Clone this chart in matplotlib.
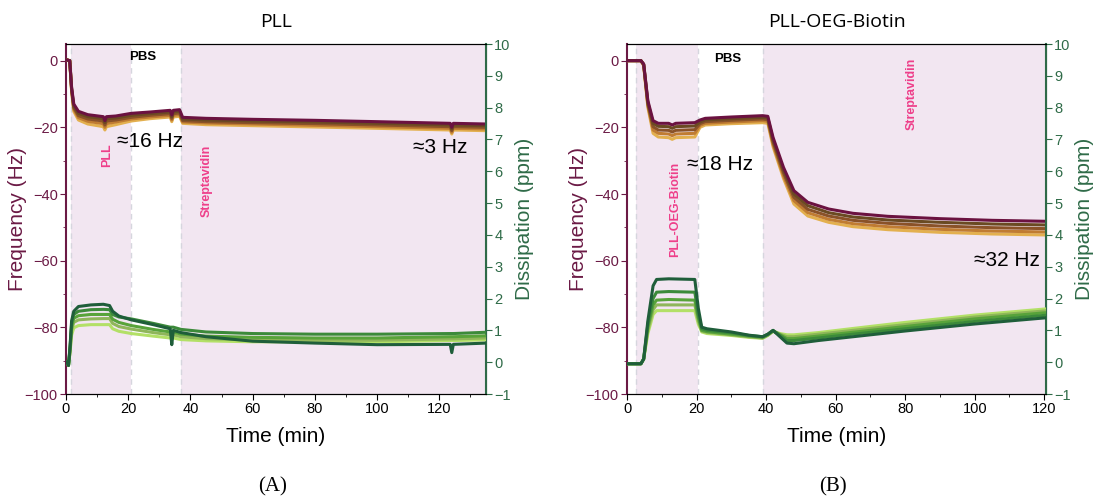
import numpy as np
import matplotlib
matplotlib.use("Agg")
import matplotlib.pyplot as plt
from matplotlib.ticker import MultipleLocator

plt.rcParams['font.family'] = ['Liberation Sans', 'DejaVu Sans']

# ---------------- data ----------------
# PLL panel, frequency shifts (Hz), five overtones, top (dark) to bottom (gold)
pll_t_freq = [0, 1.2, 1.8, 2.5, 4, 7, 12, 12.5, 13, 16, 21, 27, 33.5, 34, 34.5,
              36.5, 37.5, 45, 60, 80, 100, 123.5, 124, 124.5, 135]
pll_freq_a = [0.3, 0, -8, -13, -15.2, -16.2, -16.8, -18.0, -16.8, -16.6, -15.8, -15.4, -14.9, -16.3,
              -14.9, -14.7, -17.0, -17.3, -17.6, -17.9, -18.3, -18.8, -20.0, -18.8, -19.0]
pll_freq_b = [0.3, 0, -8.3, -13.6, -15.8, -16.8, -17.4, -18.6, -17.4, -17.2, -16.4, -15.9, -15.4, -16.8,
              -15.4, -15.2, -17.5, -17.8, -18.1, -18.4, -18.8, -19.3, -20.5, -19.3, -19.5]
pll_freq_c = [0.3, 0, -8.6, -14.1, -16.5, -17.5, -18.1, -19.3, -18.1, -17.8, -17.0, -16.4, -15.9, -17.3,
              -15.9, -15.7, -18.0, -18.3, -18.6, -18.9, -19.3, -19.8, -21.0, -19.8, -20.0]
pll_freq_d = [0.3, 0, -8.9, -14.6, -17.1, -18.2, -18.9, -20.0, -18.9, -18.4, -17.5, -16.9, -16.4, -17.8,
              -16.4, -16.2, -18.4, -18.7, -19.0, -19.4, -19.8, -20.3, -21.5, -20.3, -20.5]
pll_freq_e = [0.3, 0, -9.2, -15.2, -17.8, -19.0, -19.8, -20.8, -19.8, -19.2, -18.1, -17.4, -16.9, -18.3,
              -16.9, -16.7, -18.8, -19.2, -19.5, -19.9, -20.3, -20.8, -22.0, -20.8, -21.0]

# PLL panel, dissipation shifts (ppm)
pll_t_diss = [0, 0.8, 1.3, 1.8, 2.5, 4, 8, 12, 14, 15, 17, 21, 28, 33.5, 34, 34.5,
              37, 45, 60, 80, 100, 123.5, 124, 124.5, 135]
pll_diss_a = [0.05, -0.1, 0.5, 1.3, 1.6, 1.75, 1.8, 1.82, 1.78, 1.6, 1.45, 1.33, 1.18, 1.05, 0.55, 1.0,
              0.93, 0.8, 0.66, 0.6, 0.55, 0.56, 0.3, 0.56, 0.6]
pll_diss_b = [0.05, -0.1, 0.45, 1.2, 1.5, 1.6, 1.65, 1.66, 1.65, 1.5, 1.42, 1.36, 1.22, 1.1, 1.1, 1.1,
              1.03, 0.95, 0.9, 0.88, 0.88, 0.9, 0.9, 0.9, 0.94]
pll_diss_c = [0.05, -0.1, 0.4, 1.1, 1.38, 1.46, 1.5, 1.5, 1.5, 1.35, 1.25, 1.15, 1.03, 0.95, 0.95, 0.95,
              0.88, 0.82, 0.78, 0.76, 0.76, 0.8, 0.8, 0.8, 0.83]
pll_diss_d = [0.05, -0.1, 0.35, 1.0, 1.25, 1.33, 1.36, 1.37, 1.37, 1.22, 1.12, 1.04, 0.93, 0.86, 0.86, 0.86,
              0.8, 0.74, 0.7, 0.69, 0.69, 0.73, 0.73, 0.73, 0.76]
pll_diss_e = [0.05, -0.1, 0.3, 0.85, 1.08, 1.15, 1.18, 1.18, 1.18, 1.05, 0.97, 0.9, 0.82, 0.76, 0.76, 0.76,
              0.71, 0.67, 0.64, 0.64, 0.64, 0.68, 0.68, 0.68, 0.7]

# PLL-OEG-Biotin panel, frequency shifts (Hz)
bio_t_freq = [0, 4, 4.8, 6, 7.5, 9, 12, 13, 14, 19.5, 21, 22.5, 30, 39, 40.5,
              42, 45, 48, 52, 58, 65, 75, 90, 105, 121]
bio_freq_a = [0, 0, -1, -12, -18.0, -18.8, -18.8, -19.3, -18.8, -18.6, -17.8, -17.3, -16.9, -16.5, -16.7,
              -23, -32, -39, -42.5, -44.5, -45.8, -46.7, -47.4, -47.9, -48.2]
bio_freq_b = [0, 0, -1.1, -12.5, -18.8, -19.7, -19.8, -20.3, -19.8, -19.6, -18.4, -17.8, -17.4, -17.0, -17.2,
              -23.7, -32.8, -40, -43.5, -45.6, -46.9, -47.8, -48.5, -49.0, -49.3]
bio_freq_c = [0, 0, -1.2, -13, -19.8, -20.8, -20.9, -21.4, -20.9, -20.7, -18.9, -18.3, -17.9, -17.5, -17.7,
              -24.4, -33.6, -41, -44.6, -46.6, -47.9, -48.8, -49.6, -50.1, -50.4]
bio_freq_d = [0, 0, -1.3, -13.4, -20.8, -21.8, -22.0, -22.5, -22.0, -21.8, -19.4, -18.8, -18.4, -18.0, -18.2,
              -25.1, -34.5, -42, -45.6, -47.6, -48.9, -49.8, -50.6, -51.1, -51.4]
bio_freq_e = [0, 0, -1.5, -14, -21.8, -22.9, -23.1, -23.6, -23.1, -22.9, -20.0, -19.3, -18.9, -18.6, -18.8,
              -25.8, -35.3, -43, -46.6, -48.5, -49.8, -50.7, -51.5, -52.0, -52.3]

# PLL-OEG-Biotin panel, dissipation shifts (ppm)
bio_t_diss = [0, 4, 4.8, 6, 7.5, 8.5, 12, 19.5, 20.5, 21.5, 23, 30, 35, 39, 40.5,
              42, 44, 46, 48, 55, 65, 80, 100, 121]
bio_diss_a = [-0.05, -0.05, 0.1, 1.3, 2.4, 2.6, 2.62, 2.6, 1.7, 1.1, 1.05, 0.95, 0.85, 0.8, 0.88,
              1.0, 0.8, 0.6, 0.58, 0.68, 0.8, 0.98, 1.2, 1.4]
bio_diss_b = [-0.05, -0.05, 0.1, 1.2, 2.0, 2.2, 2.22, 2.2, 1.5, 1.05, 1.0, 0.92, 0.84, 0.8, 0.88,
              1.0, 0.84, 0.68, 0.68, 0.76, 0.88, 1.05, 1.28, 1.48]
bio_diss_c = [-0.05, -0.05, 0.1, 1.1, 1.8, 1.95, 1.97, 1.95, 1.4, 1.0, 0.96, 0.88, 0.82, 0.78, 0.86,
              0.98, 0.86, 0.74, 0.74, 0.82, 0.94, 1.12, 1.36, 1.56]
bio_diss_d = [-0.05, -0.05, 0.1, 1.0, 1.65, 1.8, 1.8, 1.8, 1.3, 0.98, 0.94, 0.86, 0.8, 0.76, 0.85,
              0.98, 0.88, 0.8, 0.8, 0.88, 1.0, 1.18, 1.42, 1.62]
bio_diss_e = [-0.05, -0.05, 0.1, 0.9, 1.5, 1.62, 1.62, 1.62, 1.2, 0.95, 0.9, 0.84, 0.78, 0.75, 0.84,
              0.97, 0.9, 0.86, 0.86, 0.93, 1.06, 1.25, 1.48, 1.68]

# injection windows (min)
pll_windows = [(1.5, 21), (37, 135)]
bio_windows = [(2.5, 20.5), (39, 121)]

freq_colors = ['#e3b04f', '#c07c32', '#8a5228', '#6a4a22', '#6b1240']
diss_colors = ['#b3e067', '#8fb65a', '#58a33a', '#3c8a3a', '#1f5e3a']

MAROON = '#6b1a45'
GREEN = '#2f6b48'
PINK = '#ee3f8a'
SHADE = '#f2e6f1'
LW = 2.2


def setup_axes(ax, xmax, windows):
    for x0, x1 in windows:
        ax.axvspan(x0, x1, color=SHADE, lw=0, zorder=0)
        for xv in (x0, x1):
            ax.axvline(xv, color='#d6d6de', lw=1.0, ls=(0, (4, 3)), zorder=0.5)
    ax.set_xlim(0, xmax)
    ax.set_ylim(-100, 5)
    ax.xaxis.set_major_locator(MultipleLocator(20))
    ax.xaxis.set_minor_locator(MultipleLocator(10))
    ax.yaxis.set_major_locator(MultipleLocator(20))
    ax.yaxis.set_minor_locator(MultipleLocator(10))
    ax.tick_params(axis='x', which='major', direction='out', labelsize=10.5, length=4, pad=2, top=False)
    ax.tick_params(axis='x', which='minor', direction='out', length=2.5, top=False)
    ax.tick_params(axis='y', which='major', direction='out', labelsize=10.5, length=4, pad=2,
                   colors=MAROON, right=False)
    ax.tick_params(axis='y', which='minor', direction='out', length=2.5, colors=MAROON, right=False)
    ax.spines['left'].set_color(MAROON)
    ax.spines['left'].set_linewidth(1.5)
    ax.set_xlabel('Time (min)', fontsize=15, labelpad=8)
    ax.set_ylabel('Frequency (Hz)', fontsize=15, color=MAROON, labelpad=-2)

    ax2 = ax.twinx()
    ax2.set_ylim(-1, 10)
    ax2.yaxis.set_major_locator(MultipleLocator(1))
    ax2.tick_params(axis='y', direction='out', labelsize=10.5, length=4, pad=2, colors=GREEN)
    ax2.spines['right'].set_color(GREEN)
    ax2.spines['right'].set_linewidth(1.5)
    ax2.spines['left'].set_visible(False)
    ax2.set_ylabel('Dissipation (ppm)', fontsize=15, color=GREEN, labelpad=3)
    return ax2


fig = plt.figure(figsize=(10.94, 5.04), dpi=100)

# ---------------- panel A : PLL ----------------
axA = fig.add_axes([66 / 1094, 110 / 504, 420 / 1094, 350 / 504])
axA2 = setup_axes(axA, 135, pll_windows)
for ys, c in zip([pll_freq_e, pll_freq_d, pll_freq_c, pll_freq_b, pll_freq_a], freq_colors):
    axA.plot(pll_t_freq, ys, color=c, lw=LW, solid_capstyle='butt', zorder=3)
for ys, c in zip([pll_diss_e, pll_diss_d, pll_diss_c, pll_diss_b, pll_diss_a], diss_colors):
    axA2.plot(pll_t_diss, ys, color=c, lw=LW, solid_capstyle='butt', zorder=3)
axA.set_title('PLL', fontsize=14, pad=12, family=['Open Sans', 'DejaVu Sans'])
axA.text(24.7, 1.0, 'PBS', fontsize=9.5, fontweight='bold', ha='center', va='center')
axA.text(13.3, -28.5, 'PLL', fontsize=9, fontweight='bold', color=PINK,
         rotation=90, ha='center', va='center')
axA.text(16.4, -24.3, '≈16 Hz', fontsize=15, ha='left', va='center')
axA.text(45.3, -36, 'Streptavidin', fontsize=9, fontweight='bold', color=PINK,
         rotation=90, ha='center', va='center')
axA.text(129, -26, '≈3 Hz', fontsize=15, ha='right', va='center')

# ---------------- panel B : PLL-OEG-Biotin ----------------
axB = fig.add_axes([627 / 1094, 110 / 504, 419 / 1094, 350 / 504])
axB2 = setup_axes(axB, 120.5, bio_windows)
for ys, c in zip([bio_freq_e, bio_freq_d, bio_freq_c, bio_freq_b, bio_freq_a], freq_colors):
    axB.plot(bio_t_freq, ys, color=c, lw=LW, solid_capstyle='butt', zorder=3)
for ys, c in zip([bio_diss_e, bio_diss_d, bio_diss_c, bio_diss_b, bio_diss_a], diss_colors):
    axB2.plot(bio_t_diss, ys, color=c, lw=LW, solid_capstyle='butt', zorder=3)
axB.set_title('PLL-OEG-Biotin', fontsize=14, pad=12, family=['Open Sans', 'DejaVu Sans'])
axB.text(29, 0.6, 'PBS', fontsize=9.5, fontweight='bold', ha='center', va='center')
axB.text(13.7, -44.7, 'PLL-OEG-Biotin', fontsize=9, fontweight='bold', color=PINK,
         rotation=90, ha='center', va='center')
axB.text(17.2, -31, '≈18 Hz', fontsize=15, ha='left', va='center')
axB.text(82, -10, 'Streptavidin', fontsize=9, fontweight='bold', color=PINK,
         rotation=90, ha='center', va='center')
axB.text(118.6, -60, '≈32 Hz', fontsize=15, ha='right', va='center')

# panel letters
fig.text(273 / 1094, 1 - 487 / 504, '(A)', fontsize=15, family='Liberation Serif',
         ha='center', va='center')
fig.text(833 / 1094, 1 - 487 / 504, '(B)', fontsize=15, family='Liberation Serif',
         ha='center', va='center')

fig.savefig('out.png', dpi=100)
